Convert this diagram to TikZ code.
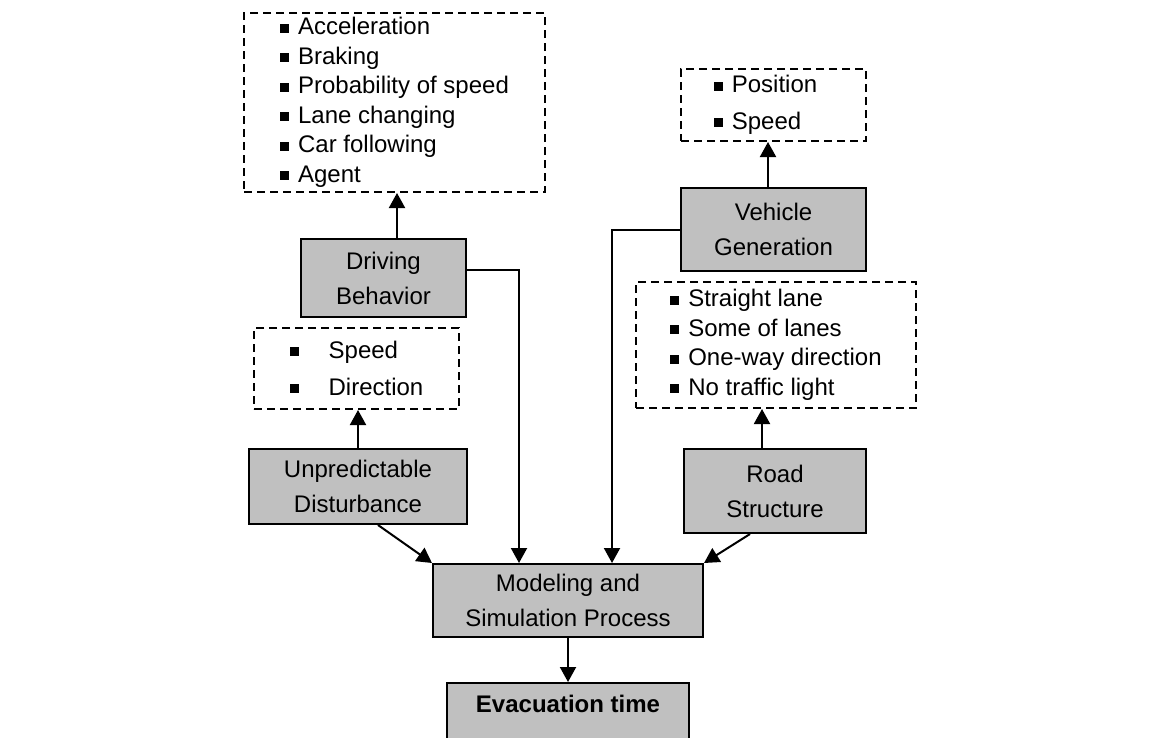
\documentclass[tikz,border=0pt]{standalone}
\usepackage{fontspec}
\setmainfont{Liberation Sans}
\usetikzlibrary{arrows.meta}
\definecolor{boxgray}{RGB}{192,192,192}
\newcommand{\blt}[1][9pt]{\rule[0.1em]{9pt}{9pt}\hspace{#1}}

\begin{document}
\begin{tikzpicture}[x=1pt,y=-1pt,
	font=\fontsize{24}{35}\selectfont,
	block/.style={draw=black,line width=2pt,fill=boxgray,align=center,inner sep=0pt},
	itembox/.style={draw=black,line width=2pt,dash pattern=on 8pt off 5pt,align=left,inner sep=0pt,font=\fontsize{24}{29.5}\selectfont},
	loose/.style={font=\fontsize{24}{36.5}\selectfont},
	arr/.style={line width=2pt,-{Triangle[width=16pt,length=15pt]}}]
\useasboundingbox (0,0) rectangle (1150,737);
% item lists
\node[itembox,minimum width=301pt,minimum height=179pt] (acts) at (394.5,102.5)
	{\blt Acceleration\\ \blt Braking\\ \blt Probability of speed\\ \blt Lane changing\\ \blt Car following\\ \blt Agent};
\node[itembox,loose,minimum width=205pt,minimum height=81pt] (sd) at (356.5,368.5)
	{\blt[30pt]Speed\\ \blt[30pt]Direction};
\node[itembox,loose,minimum width=185pt,minimum height=72pt] (pos) at (773.5,105)
	{\blt Position\hspace*{16pt}\\ \blt Speed};
\node[itembox,minimum width=280pt,minimum height=126pt] (lanes) at (776,345)
	{\blt Straight lane\\ \blt Some of lanes\\ \blt One-way direction\\ \blt No traffic light};
% gray boxes
\node[block,minimum width=165pt,minimum height=78pt] (drive) at (383.5,278) {Driving\\Behavior};
\node[block,minimum width=218pt,minimum height=75pt] (dist) at (358,486.5) {Unpredictable\\Disturbance};
\node[block,minimum width=185pt,minimum height=83pt] (veh) at (773.5,229.5) {Vehicle\\Generation};
\node[block,minimum width=182pt,minimum height=84pt] (road) at (775,491) {Road\\Structure};
\node[block,minimum width=270pt,minimum height=73pt] (model) at (568,600.5) {Modeling and\\Simulation Process};
\node[block,anchor=north,minimum width=242pt,inner ysep=12pt,text height=17.5pt,text depth=40pt] (evac) at (568,682)
	{\textbf{Evacuation time}};
% arrows up
\draw[arr] ([xshift=13.5pt]drive.north) -- ([xshift=13.5pt]drive.north |- acts.south);
\draw[arr] (dist.north) -- (dist.north |- sd.south);
\draw[arr] ([xshift=-5.5pt]veh.north) -- ([xshift=-5.5pt]veh.north |- pos.south);
\draw[arr] ([xshift=-13pt]road.north) -- ([xshift=-13pt]road.north |- lanes.south);
% arrows into the process
\draw[arr] ([yshift=8pt]drive.east) -| ([xshift=-49pt]model.north);
\draw[arr] (veh.west) -| ([xshift=44pt]model.north);
\draw[arr] ([xshift=20pt]dist.south) -- (model.north west);
\draw[arr] ([xshift=-25pt]road.south) -- (model.north east);
\draw[arr] (model.south) -- (evac.north);
\end{tikzpicture}
\end{document}
